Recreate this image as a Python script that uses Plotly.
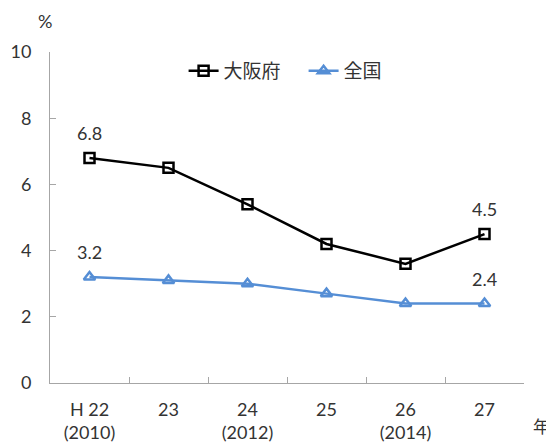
import plotly.graph_objects as go

categories = ["H 22<br>(2010)", "23", "24<br>(2012)", "25", "26<br>(2014)", "27"]
osaka = [6.8, 6.5, 5.4, 4.2, 3.6, 4.5]
national = [3.2, 3.1, 3.0, 2.7, 2.4, 2.4]
y_ticks = [0, 2, 4, 6, 8, 10]

FONT = "Lato, 'Open Sans', sans-serif"
CJK = "'Noto Sans CJK JP', sans-serif"
FS = 18

fig = go.Figure()
fig.add_trace(go.Scatter(
    x=categories, y=osaka, name="大阪府", mode="lines+markers",
    line=dict(color="#000000", width=2.5),
    marker=dict(symbol="square-open", size=10, color="#000000", line=dict(width=2.5)),
))
fig.add_trace(go.Scatter(
    x=categories, y=national, name="全国", mode="lines+markers",
    line=dict(color="#558ED5", width=2.5),
    marker=dict(symbol="triangle-up-open", size=10, color="#558ED5", line=dict(width=2.5)),
))

annotations = []
for series in (osaka, national):
    for i in (0, len(series) - 1):
        annotations.append(dict(
            x=i, y=series[i], xref="x", yref="y", text=f"{series[i]:.1f}", showarrow=False,
            yshift=25, font=dict(size=FS, color="#333333", family=FONT),
        ))

annotations += [
    dict(text="%", xref="paper", yref="paper", x=-0.01, y=1.095, showarrow=False,
         font=dict(size=FS, family=FONT), xanchor="center", yanchor="middle"),
    dict(text="年", xref="paper", yref="paper", x=1.036, y=-0.127, showarrow=False,
         font=dict(size=FS - 1, family=CJK), xanchor="center", yanchor="middle"),
]

fig.update_layout(
    width=546, height=435,
    margin=dict(l=42, r=30, t=44, b=60),
    paper_bgcolor="white", plot_bgcolor="white",
    font=dict(family=FONT, size=FS, color="#333333"),
    showlegend=True,
    legend=dict(orientation="h", x=0.535, xanchor="center", y=1.0, yanchor="top",
                font=dict(size=19, family=CJK), entrywidth=75,
                bgcolor="rgba(0,0,0,0)"),
    xaxis=dict(
        type="category", range=[-0.5, 5.5], showline=True, linecolor="#A6A6A6", linewidth=1,
        ticks="inside", tickson="boundaries", ticklen=6, tickcolor="#A6A6A6",
        showgrid=False, tickfont=dict(size=FS), fixedrange=True, ticklabelstandoff=10,
        automargin=False,
    ),
    yaxis=dict(
        range=[0, 10], tickvals=y_ticks, showline=True, linecolor="#A6A6A6", linewidth=1,
        ticks="inside", ticklen=6, tickcolor="#A6A6A6", showgrid=False, zeroline=False,
        tickfont=dict(size=FS), ticklabelstandoff=14, automargin=False,
    ),
    annotations=annotations,
)

fig.write_html("out.html")
